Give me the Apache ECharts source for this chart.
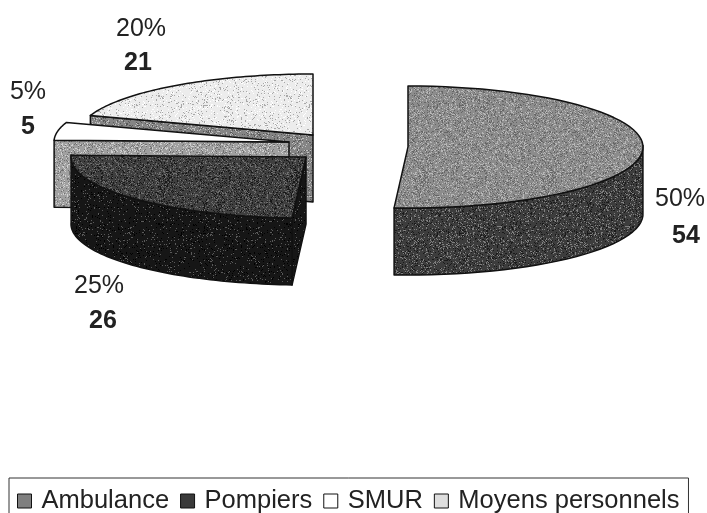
<!DOCTYPE html>
<html>
<head>
<meta charset="utf-8">
<style>
    html, body {margin: 0; padding: 0; background: #fff;}
    #chart {width: 707px; height: 513px;}
</style>
<script src="https://cdn.jsdelivr.net/npm/echarts@6/dist/echarts.min.js"></script>
</head>
<body>
<div id="chart"></div>
<script>
const categories = ['Ambulance', 'Pompiers', 'SMUR', 'Moyens personnels'];
const values = [54, 26, 5, 21];
const percents = ['50%', '25%', '5%', '20%'];

const total = values.reduce((a, b) => a + b, 0);
const radiusX = 235;
const radiusY = 61;
const depth = 67;
const font = '"Liberation Sans", Arial, sans-serif';

// where each exploded slice sits, same order as categories
const centers = [[408, 147], [306, 157], [289, 142], [313, 135]];
const labelSpots = [[[680, 199], [686, 236]], [[99, 286], [103, 321]], [[28, 92], [28, 127]], [[141, 29], [138, 63]]];

// grainy scan look, a fixed tile of light and dark specks
const grain = (base, light, dark, count) => {
    const tile = document.createElement('canvas');
    tile.width = tile.height = 128;
    const ctx = tile.getContext('2d');
    ctx.fillStyle = base;
    ctx.fillRect(0, 0, 128, 128);
    let seed = 2463534242;
    const next = () => {
        seed ^= seed << 13;
        seed ^= seed >>> 17;
        seed ^= seed << 5;
        return seed >>> 0;
    };
    for (let i = 0; i < count; i++) {
        ctx.fillStyle = i % 2 ? light : dark;
        ctx.fillRect(next() % 128, next() % 128, 1, 1);
    }
    return {image: tile, repeat: 'repeat'};
};

const topFills = [
    grain('#8c8c8c', '#b8b8b8', '#666666', 6000),
    grain('#3f3f3f', '#6e6e6e', '#181818', 6000),
    '#ffffff',
    grain('#ececec', '#ffffff', '#a8a8a8', 3000)
];
const wallFills = [
    grain('#3d3d3d', '#808080', '#1a1a1a', 5000),
    grain('#161616', '#5a5a5a', '#000000', 2000),
    grain('#a0a0a0', '#d0d0d0', '#707070', 5000),
    grain('#858585', '#c0c0c0', '#585858', 5000)
];
const legendFills = ['#7f7f7f', '#3a3a3a', '#ffffff', '#dedede'];

// screen point of a pie angle, clockwise from 12 o'clock
const rimPoint = (center, turn) => [
    center[0] + radiusX * Math.sin(turn * 2 * Math.PI),
    center[1] - radiusY * Math.cos(turn * 2 * Math.PI)
];

const rimPoints = (center, from, to) => {
    const out = [];
    for (let i = 0; i <= 60; i++) {
        out.push(rimPoint(center, from + (to - from) * i / 60));
    }
    return out;
};

const lowered = (p) => [p[0], p[1] + depth];

const edgeStyle = {stroke: '#111', lineWidth: 1.5, lineJoin: 'round'};

const sliceRender = (index) => (params, api) => {
    const from = values.slice(0, index).reduce((a, b) => a + b, 0) / total;
    const to = from + api.value(0) / total;
    const center = centers[index];
    const rim = rimPoints(center, from, to);
    const children = [];
    const wall = (points) => children.push({
        type: 'polygon',
        shape: {points: points},
        style: {fill: wallFills[index], ...edgeStyle}
    });

    // walls first, the top face goes over them
    if (index === 0) {
        // only the front half of the rim shows
        const front = rim.slice(29);
        wall(front.concat(front.map(lowered).reverse()));
    } else if (index === 1) {
        wall([center, rim[0], lowered(rim[0]), lowered(center)]);
        wall(rim.concat(rim.map(lowered).reverse()));
    } else {
        wall([center, rim[0], lowered(rim[0]), lowered(center)]);
    }
    children.push({
        type: 'polygon',
        shape: {points: [center].concat(rim)},
        style: {fill: topFills[index], ...edgeStyle}
    });
    [percents[index], String(api.value(0))].forEach((text, i) => {
        children.push({
            type: 'text',
            z2: 10,
            style: {
                x: labelSpots[index][i][0],
                y: labelSpots[index][i][1],
                text: text,
                fill: '#222',
                font: (i === 1 ? 'bold ' : '') + '25px ' + font,
                align: 'center',
                verticalAlign: 'middle'
            }
        });
    });
    return {type: 'group', children: children};
};

// painted back to front
const drawOrder = [3, 2, 1, 0];

const chart = echarts.init(document.getElementById('chart'));
chart.setOption({
    animation: false,
    legend: {
        data: categories.map((name, i) => ({
            name: name,
            icon: 'rect',
            itemStyle: {color: legendFills[i], borderColor: '#111', borderWidth: 1}
        })),
        left: 9,
        top: 478,
        orient: 'horizontal',
        itemWidth: 14,
        itemHeight: 14,
        itemGap: 11,
        padding: [10, 9, 4, 8],
        borderColor: '#333',
        borderWidth: 1,
        textStyle: {fontFamily: font, fontSize: 25.5, color: '#222', padding: [0, 0, 0, 5]}
    },
    series: drawOrder.map((i) => ({
        type: 'custom',
        name: categories[i],
        coordinateSystem: 'none',
        renderItem: sliceRender(i),
        data: [[values[i]]]
    }))
});
</script>
</body>
</html>
